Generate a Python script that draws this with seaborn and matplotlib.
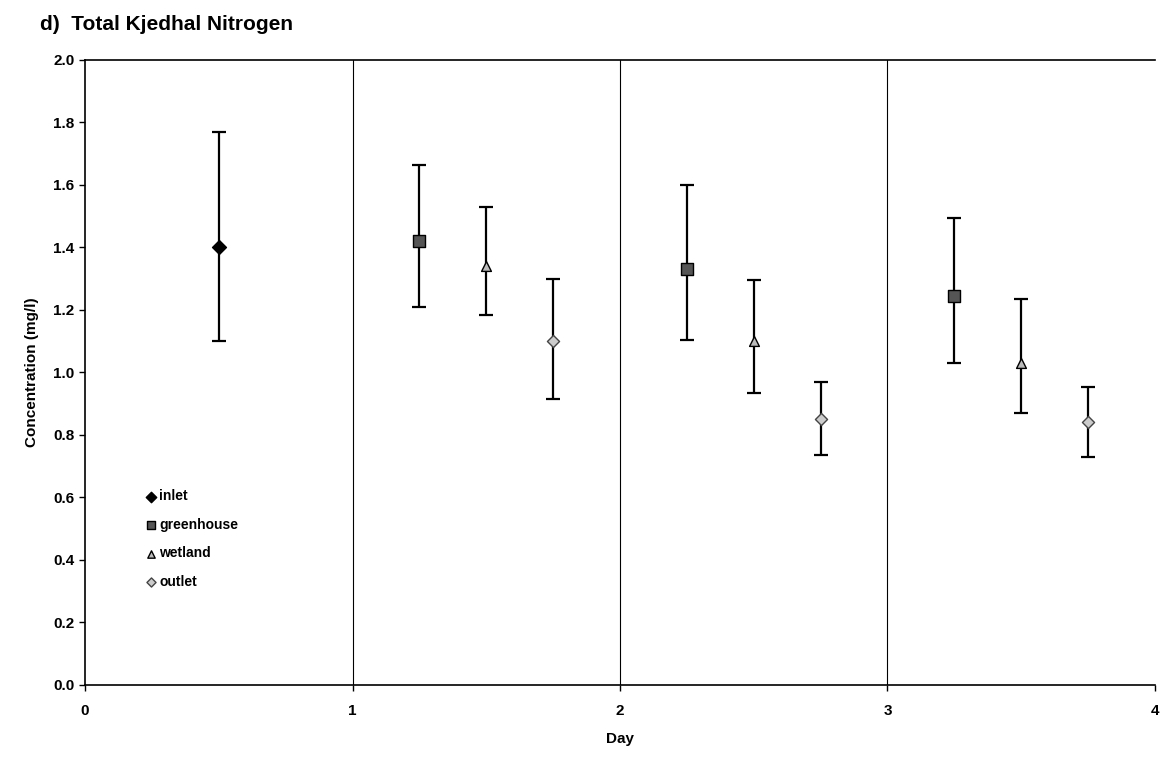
import matplotlib
matplotlib.use("Agg")
import matplotlib.pyplot as plt
import seaborn as sns
import pandas as pd
import numpy as np

sites = ["inlet", "greenhouse", "wetland", "outlet",
         "greenhouse", "wetland", "outlet",
         "greenhouse", "wetland", "outlet"]
day_pos = [0.5, 1.25, 1.5, 1.75, 2.25, 2.5, 2.75, 3.25, 3.5, 3.75]
mean_tkn = [1.40, 1.42, 1.34, 1.10, 1.33, 1.10, 0.85, 1.245, 1.03, 0.84]
upper_tkn = [1.77, 1.665, 1.53, 1.30, 1.60, 1.295, 0.97, 1.495, 1.235, 0.955]
lower_tkn = [1.10, 1.21, 1.185, 0.915, 1.105, 0.935, 0.735, 1.03, 0.87, 0.73]

df = pd.DataFrame({"site": sites, "day": day_pos, "tkn": mean_tkn,
                   "hi": upper_tkn, "lo": lower_tkn})

sns.set_style("white")
plt.rcParams['font.family'] = ['Liberation Sans', 'DejaVu Sans']
plt.rcParams['text.color'] = 'black'
plt.rcParams['axes.labelcolor'] = 'black'
plt.rcParams['xtick.color'] = 'black'
plt.rcParams['ytick.color'] = 'black'

fig = plt.figure(figsize=(11.63, 7.59), dpi=100)
ax = fig.add_axes([0.0731, 0.0975, 0.92, 0.8235])

# error bars
ax.errorbar(df["day"], df["tkn"],
            yerr=[df["tkn"] - df["lo"], df["hi"] - df["tkn"]],
            fmt="none", ecolor="black", elinewidth=1.6, capsize=5,
            capthick=1.6, zorder=2)

styles = {
    "inlet": dict(marker="D", color="black", edgecolor="black", s=50),
    "greenhouse": dict(marker="s", color="#555555", edgecolor="black", s=65),
    "wetland": dict(marker="^", color="#bbbbbb", edgecolor="black", s=50),
    "outlet": dict(marker="D", color="#cccccc", edgecolor="#444444", s=38),
}
for site in ["inlet", "greenhouse", "wetland", "outlet"]:
    sub = df[df["site"] == site]
    st = styles[site]
    sns.scatterplot(data=sub, x="day", y="tkn", ax=ax, marker=st["marker"],
                    color=st["color"], edgecolor=st["edgecolor"], s=st["s"],
                    linewidth=1.0, label=site, zorder=3)

for xv in [1, 2, 3]:
    ax.axvline(xv, color="black", linewidth=0.8, zorder=1)

ax.set_xlim(0, 4)
ax.set_ylim(0, 2.0)
ax.set_xticks([0, 1, 2, 3, 4])
ax.set_yticks(np.arange(0, 2.01, 0.2))
ax.set_yticklabels([f"{v:.1f}" for v in np.arange(0, 2.01, 0.2)])
for lab in ax.get_xticklabels() + ax.get_yticklabels():
    lab.set_fontweight("bold")
    lab.set_fontsize(11)
ax.tick_params(axis="both", direction="out", length=4, width=1, color="black",
               bottom=True, left=True)
ax.tick_params(axis="x", pad=10)

for sp in ["left", "bottom", "top"]:
    ax.spines[sp].set_visible(True)
    ax.spines[sp].set_color("black")
    ax.spines[sp].set_linewidth(1.2)
ax.spines["right"].set_visible(False)

ax.set_xlabel("Day", fontsize=11, fontweight="bold", labelpad=10)
ax.set_ylabel("Concentration (mg/l)", fontsize=11, fontweight="bold", labelpad=10)

leg = ax.legend(loc="upper left", bbox_to_anchor=(0.05, 0.322), frameon=False,
                fontsize=10, handletextpad=0.1, labelspacing=1.05,
                markerscale=0.75, borderaxespad=0, handlelength=1.0)
for t in leg.get_texts():
    t.set_fontweight("bold")

fig.text(0.034, 0.968, "d)  Total Kjedhal Nitrogen", fontsize=15,
         fontweight="bold", ha="left", va="center")

fig.savefig("out.png", dpi=100, facecolor="white")
